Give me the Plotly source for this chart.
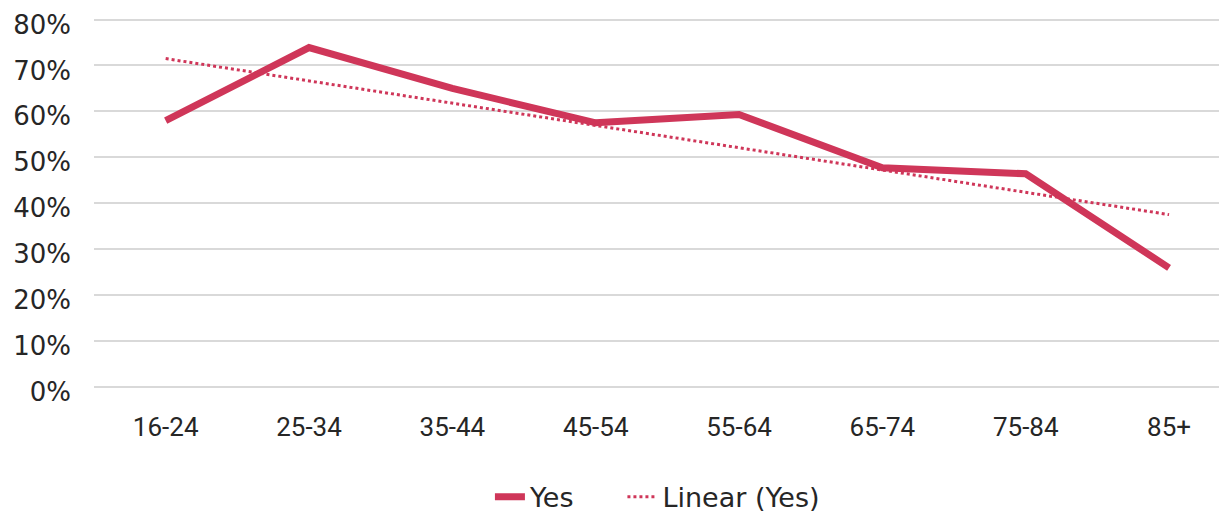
import plotly.graph_objects as go

categories = ["16-24", "25-34", "35-44", "45-54", "55-64", "65-74", "75-84", "85+"]
yes_values = [0.580, 0.739, 0.650, 0.575, 0.593, 0.477, 0.464, 0.259]
trend_categories = ["16-24", "85+"]
trend_values = [0.715, 0.375]
y_ticks = [0, 0.1, 0.2, 0.3, 0.4, 0.5, 0.6, 0.7, 0.8]

color = "#CF3659"

fig = go.Figure()
fig.add_trace(go.Scatter(
    x=categories, y=yes_values, mode="lines", name="Yes\u00a0\u00a0\u00a0\u00a0\u00a0",
    line=dict(color=color, width=7),
))
fig.add_trace(go.Scatter(
    x=trend_categories, y=trend_values, mode="lines", name="Linear (Yes)",
    line=dict(color=color, width=3, dash="dot"),
))

fig.update_layout(
    width=1227, height=511,
    margin=dict(l=86, r=0, t=7, b=130, autoexpand=False),
    plot_bgcolor="white", paper_bgcolor="white",
    showlegend=True,
    legend=dict(orientation="h", x=0.347, xanchor="left", y=-0.289, yanchor="middle",
                font=dict(family="DejaVu Sans", size=27, color="#262626")),
    xaxis=dict(
        type="category", categoryorder="array", categoryarray=categories,
        range=[-0.5, 7.46], showgrid=False, zeroline=False, showline=False,
        ticks="", tickfont=dict(family="Roboto", size=26, color="#262626"),
        ticklabelstandoff=20, automargin=False,
    ),
    yaxis=dict(
        range=[-0.005, 0.81], tickvals=y_ticks, tickformat=".0%",
        showgrid=True, gridcolor="#D9D9D9", gridwidth=2,
        zeroline=False, showline=False, ticks="",
        tickfont=dict(family="DejaVu Sans", size=26, color="#262626"),
        ticklabelstandoff=22, automargin=False,
        ticklabeloverflow="allow", ticklabelshift=5,
    ),
)

fig.write_html("out.html")
